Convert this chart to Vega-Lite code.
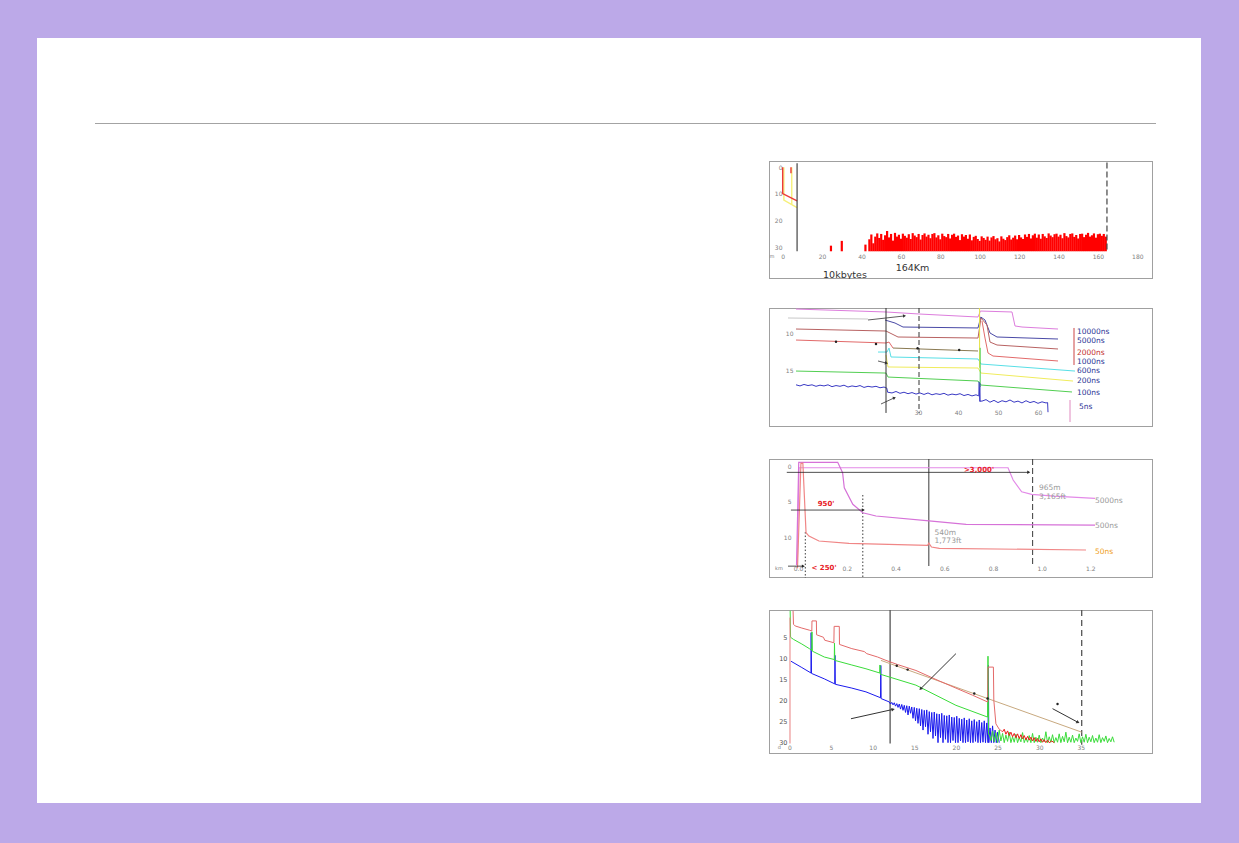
{
  "$schema": "https://vega.github.io/schema/vega-lite/v6.json",
  "background": "#bca9e8",
  "padding": {"left": 37, "top": 38, "right": 38, "bottom": 40},
  "spacing": 0,
  "resolve": {"scale": {"color": "independent", "fill": "independent", "strokeDash": "independent"}},
  "config": {
    "view": {"fill": "white", "stroke": null},
    "axis": {"domain": false, "ticks": false, "tickSize": 0, "grid": false, "labelFont": "DejaVu Sans", "labelFontSize": 6, "labelColor": "#808080", "labelFlush": false, "labelOverlap": false, "labelBound": false},
    "text": {"font": "DejaVu Sans"}
  },
  "datasets": {
    "blank": [{"y": 0}],
    "p1frame": [
      {"x": -6.95, "y": -2.36, "x0": 187.97, "y0": -2.36}, {"x": -6.95, "y": 41.9, "x0": 187.97, "y0": 41.9},
      {"x": -6.95, "y": -2.36, "x0": -6.95, "y0": 41.9}, {"x": 187.97, "y": -2.36, "x0": 187.97, "y0": 41.9}
    ],
    "p2frame": [
      {"x": -7.25, "y": 6.62, "x0": 88.75, "y0": 6.62}, {"x": -7.25, "y": 22.7, "x0": 88.75, "y0": 22.7},
      {"x": -7.25, "y": 6.62, "x0": -7.25, "y0": 22.7}, {"x": 88.75, "y": 6.62, "x0": 88.75, "y0": 22.7}
    ],
    "p3frame": [
      {"x": -0.119, "y": -0.99, "x0": 1.457, "y0": -0.99}, {"x": -0.119, "y": 15.77, "x0": 1.457, "y0": 15.77},
      {"x": -0.119, "y": -0.99, "x0": -0.119, "y0": 15.77}, {"x": 1.457, "y": -0.99, "x0": 1.457, "y0": 15.77}
    ],
    "p4frame": [
      {"x": -2.44, "y": -1.6, "x0": 43.66, "y0": -1.6}, {"x": -2.44, "y": 32.7, "x0": 43.66, "y0": 32.7},
      {"x": -2.44, "y": -1.6, "x0": -2.44, "y0": 32.7}, {"x": 43.66, "y": -1.6, "x0": 43.66, "y0": 32.7}
    ],
    "p1bars": [
      {"x": 24.5, "y": 29.4}, {"x": 30, "y": 27.6}, {"x": 42, "y": 29.0},
      {"x": 44, "y": 27.0}, {"x": 45, "y": 25.2}, {"x": 46, "y": 28.5}, {"x": 47, "y": 26.0}, {"x": 48, "y": 24.8}, {"x": 49, "y": 26.5}, {"x": 50, "y": 25.0}, {"x": 51, "y": 27.2}, {"x": 52, "y": 25.5}, {"x": 53, "y": 23.9},
      {"x": 54, "y": 26.3}, {"x": 55, "y": 25.0}, {"x": 56, "y": 27.5}, {"x": 57, "y": 24.6}, {"x": 58, "y": 26.0}, {"x": 59, "y": 25.3}, {"x": 60, "y": 26.8}, {"x": 61, "y": 24.9}, {"x": 62, "y": 25.7}, {"x": 63, "y": 26.4},
      {"x": 64, "y": 25.1}, {"x": 65, "y": 26.9}, {"x": 66, "y": 24.7}, {"x": 67, "y": 25.6}, {"x": 68, "y": 26.2}, {"x": 69, "y": 25.0}, {"x": 70, "y": 27.1}, {"x": 71, "y": 25.4}, {"x": 72, "y": 24.8}, {"x": 73, "y": 26.0},
      {"x": 74, "y": 25.3}, {"x": 75, "y": 26.6}, {"x": 76, "y": 25.0}, {"x": 77, "y": 24.7}, {"x": 78, "y": 26.3}, {"x": 79, "y": 25.5}, {"x": 80, "y": 27.0}, {"x": 81, "y": 24.9}, {"x": 82, "y": 25.8}, {"x": 83, "y": 26.2},
      {"x": 84, "y": 25.0}, {"x": 85, "y": 26.7}, {"x": 86, "y": 25.3}, {"x": 87, "y": 24.9}, {"x": 88, "y": 26.1}, {"x": 89, "y": 25.6}, {"x": 90, "y": 27.3}, {"x": 91, "y": 25.1}, {"x": 92, "y": 26.0}, {"x": 93, "y": 25.4},
      {"x": 94, "y": 26.8}, {"x": 95, "y": 25.2}, {"x": 96, "y": 27.4}, {"x": 97, "y": 26.1}, {"x": 98, "y": 25.7}, {"x": 99, "y": 26.9}, {"x": 100, "y": 27.6}, {"x": 101, "y": 25.9}, {"x": 102, "y": 26.5}, {"x": 103, "y": 27.2},
      {"x": 104, "y": 26.0}, {"x": 105, "y": 27.5}, {"x": 106, "y": 26.3}, {"x": 107, "y": 25.8}, {"x": 108, "y": 27.0}, {"x": 109, "y": 26.6}, {"x": 110, "y": 27.8}, {"x": 111, "y": 25.9}, {"x": 112, "y": 26.8}, {"x": 113, "y": 27.3},
      {"x": 114, "y": 26.2}, {"x": 115, "y": 25.5}, {"x": 116, "y": 27.1}, {"x": 117, "y": 26.4}, {"x": 118, "y": 25.6}, {"x": 119, "y": 27.0}, {"x": 120, "y": 25.4}, {"x": 121, "y": 26.3}, {"x": 122, "y": 26.9}, {"x": 123, "y": 25.2},
      {"x": 124, "y": 26.1}, {"x": 125, "y": 25.0}, {"x": 126, "y": 26.7}, {"x": 127, "y": 25.5}, {"x": 128, "y": 24.9}, {"x": 129, "y": 26.4}, {"x": 130, "y": 25.2}, {"x": 131, "y": 26.8}, {"x": 132, "y": 25.0}, {"x": 133, "y": 25.9},
      {"x": 134, "y": 26.5}, {"x": 135, "y": 24.8}, {"x": 136, "y": 25.6}, {"x": 137, "y": 26.2}, {"x": 138, "y": 25.1}, {"x": 139, "y": 24.9}, {"x": 140, "y": 26.0}, {"x": 141, "y": 25.3}, {"x": 142, "y": 26.6}, {"x": 143, "y": 24.7},
      {"x": 144, "y": 25.8}, {"x": 145, "y": 26.3}, {"x": 146, "y": 25.0}, {"x": 147, "y": 24.8}, {"x": 148, "y": 26.1}, {"x": 149, "y": 25.4}, {"x": 150, "y": 26.7}, {"x": 151, "y": 25.0}, {"x": 152, "y": 24.9}, {"x": 153, "y": 26.2},
      {"x": 154, "y": 25.3}, {"x": 155, "y": 24.6}, {"x": 156, "y": 26.0}, {"x": 157, "y": 25.5}, {"x": 158, "y": 24.8}, {"x": 159, "y": 26.4}, {"x": 160, "y": 25.1}, {"x": 161, "y": 24.9}, {"x": 162, "y": 25.7}, {"x": 163, "y": 25.0},
      {"x": 164, "y": 26.0}
    ],
    "p1lines": [
      {"s": "ya", "x": 0.6, "y": 0}, {"s": "ya", "x": 0.6, "y": 12.3}, {"s": "ya", "x": 7.3, "y": 15.1},
      {"s": "yb", "x": 4.6, "y": 0}, {"s": "yb", "x": 4.6, "y": 13.8},
      {"s": "ra", "x": 0, "y": 0}, {"s": "ra", "x": 0, "y": 9.9}, {"s": "ra", "x": 7.3, "y": 12.6},
      {"s": "rb", "x": 4.2, "y": 0}, {"s": "rb", "x": 4.2, "y": 2.2}
    ],
    "p1rules": [
      {"x": 7.3, "y": -1.5, "y2": 31.5, "k": "solid"},
      {"x": 164.6, "y": -1.8, "y2": 31.8, "k": "dash"}
    ],
    "p1text": [
      {"x": 65.9, "y": 37.6, "t": "164Km"},
      {"x": 31.6, "y": 40.4, "t": "10kbytes"}
    ],
    "p1unit": [{"x": -5.4, "y": 33.4, "t": "m"}],
    "p2lines": [
      {"s": "pre", "x": -2.5, "y": 7.97}, {"s": "pre", "x": 17.5, "y": 8.11},
      {"s": "s10000", "x": -0.5, "y": 6.76}, {"s": "s10000", "x": 22, "y": 7.16}, {"s": "s10000", "x": 30.25, "y": 7.43}, {"s": "s10000", "x": 45, "y": 7.84}, {"s": "s10000", "x": 45.6, "y": 7.03}, {"s": "s10000", "x": 53.5, "y": 7.16}, {"s": "s10000", "x": 54.25, "y": 9.05}, {"s": "s10000", "x": 56, "y": 9.19}, {"s": "s10000", "x": 65, "y": 9.46},
      {"s": "s5000", "x": 21.75, "y": 8.24}, {"s": "s5000", "x": 24.25, "y": 8.65}, {"s": "s5000", "x": 26.25, "y": 9.19}, {"s": "s5000", "x": 45, "y": 9.32}, {"s": "s5000", "x": 45.7, "y": 7.84}, {"s": "s5000", "x": 46.75, "y": 8.24}, {"s": "s5000", "x": 48, "y": 10.0}, {"s": "s5000", "x": 49.75, "y": 10.54}, {"s": "s5000", "x": 65, "y": 10.81},
      {"s": "s2000", "x": -0.5, "y": 9.46}, {"s": "s2000", "x": 22, "y": 9.73}, {"s": "s2000", "x": 25, "y": 10.54}, {"s": "s2000", "x": 45, "y": 10.68}, {"s": "s2000", "x": 45.75, "y": 7.97}, {"s": "s2000", "x": 47.25, "y": 8.92}, {"s": "s2000", "x": 48, "y": 11.22}, {"s": "s2000", "x": 49.75, "y": 11.62}, {"s": "s2000", "x": 65, "y": 12.16},
      {"s": "s1000", "x": -0.5, "y": 10.95}, {"s": "s1000", "x": 22, "y": 11.35}, {"s": "s1000", "x": 22.75, "y": 11.22}, {"s": "s1000", "x": 23.75, "y": 12.03},
      {"s": "olive", "x": 23.75, "y": 12.03}, {"s": "olive", "x": 45, "y": 12.43},
      {"s": "s1000b", "x": 46, "y": 8.38}, {"s": "s1000b", "x": 46.75, "y": 10.68}, {"s": "s1000b", "x": 47.5, "y": 12.7}, {"s": "s1000b", "x": 48.75, "y": 13.11}, {"s": "s1000b", "x": 65, "y": 13.78},
      {"s": "s600", "x": 20, "y": 12.57}, {"s": "s600", "x": 22.25, "y": 12.57}, {"s": "s600", "x": 22.75, "y": 12.03}, {"s": "s600", "x": 23.25, "y": 13.24}, {"s": "s600", "x": 45, "y": 13.51}, {"s": "s600", "x": 45.75, "y": 14.19}, {"s": "s600", "x": 69.25, "y": 15.14},
      {"s": "s200", "x": 22, "y": 12.97}, {"s": "s200", "x": 22.5, "y": 14.59}, {"s": "s200", "x": 45, "y": 14.73}, {"s": "s200", "x": 45.75, "y": 15.41}, {"s": "s200", "x": 68.75, "y": 16.49},
      {"s": "s100", "x": -0.5, "y": 15.14}, {"s": "s100", "x": 22, "y": 15.41}, {"s": "s100", "x": 22.5, "y": 15.95}, {"s": "s100", "x": 45, "y": 16.49}, {"s": "s100", "x": 45.75, "y": 17.03}, {"s": "s100", "x": 68.5, "y": 17.97},
      {"s": "s5", "x": -0.5, "y": 17.0}, {"s": "s5", "x": 0.5, "y": 17.15}, {"s": "s5", "x": 1.5, "y": 16.95}, {"s": "s5", "x": 2.5, "y": 17.1}, {"s": "s5", "x": 3.5, "y": 17.0}, {"s": "s5", "x": 4.5, "y": 17.2}, {"s": "s5", "x": 5.5, "y": 17.05}, {"s": "s5", "x": 6.5, "y": 17.15}, {"s": "s5", "x": 7.5, "y": 17.0}, {"s": "s5", "x": 8.5, "y": 17.25}, {"s": "s5", "x": 9.5, "y": 17.1}, {"s": "s5", "x": 10.5, "y": 17.2}, {"s": "s5", "x": 11.5, "y": 17.05}, {"s": "s5", "x": 12.5, "y": 17.3}, {"s": "s5", "x": 13.5, "y": 17.15}, {"s": "s5", "x": 14.5, "y": 17.25}, {"s": "s5", "x": 15.5, "y": 17.1}, {"s": "s5", "x": 16.5, "y": 17.35}, {"s": "s5", "x": 17.5, "y": 17.2}, {"s": "s5", "x": 18.5, "y": 17.3}, {"s": "s5", "x": 19.5, "y": 17.2}, {"s": "s5", "x": 20.5, "y": 17.4}, {"s": "s5", "x": 21.5, "y": 17.3}, {"s": "s5", "x": 22.2, "y": 17.45}, {"s": "s5", "x": 22.4, "y": 18.0},
      {"s": "s5", "x": 23.5, "y": 18.1}, {"s": "s5", "x": 24.5, "y": 17.9}, {"s": "s5", "x": 25.5, "y": 18.15}, {"s": "s5", "x": 26.5, "y": 18.0}, {"s": "s5", "x": 27.5, "y": 18.2}, {"s": "s5", "x": 28.5, "y": 18.05}, {"s": "s5", "x": 29.5, "y": 18.25}, {"s": "s5", "x": 30.5, "y": 18.1}, {"s": "s5", "x": 31.5, "y": 18.3}, {"s": "s5", "x": 32.5, "y": 18.1}, {"s": "s5", "x": 33.5, "y": 18.35}, {"s": "s5", "x": 34.5, "y": 18.2}, {"s": "s5", "x": 35.5, "y": 18.3}, {"s": "s5", "x": 36.5, "y": 18.15}, {"s": "s5", "x": 37.5, "y": 18.4}, {"s": "s5", "x": 38.5, "y": 18.25}, {"s": "s5", "x": 39.5, "y": 18.35}, {"s": "s5", "x": 40.5, "y": 18.2}, {"s": "s5", "x": 41.5, "y": 18.45}, {"s": "s5", "x": 42.5, "y": 18.3}, {"s": "s5", "x": 43.5, "y": 18.5}, {"s": "s5", "x": 44.5, "y": 18.35}, {"s": "s5", "x": 45.2, "y": 18.5}, {"s": "s5", "x": 45.3, "y": 16.6}, {"s": "s5", "x": 45.45, "y": 19.2},
      {"s": "s5", "x": 46, "y": 19.2}, {"s": "s5", "x": 47, "y": 19.0}, {"s": "s5", "x": 48, "y": 19.35}, {"s": "s5", "x": 49, "y": 19.1}, {"s": "s5", "x": 50, "y": 19.4}, {"s": "s5", "x": 51, "y": 19.15}, {"s": "s5", "x": 52, "y": 19.3}, {"s": "s5", "x": 53, "y": 19.05}, {"s": "s5", "x": 54, "y": 19.35}, {"s": "s5", "x": 55, "y": 19.2}, {"s": "s5", "x": 56, "y": 19.45}, {"s": "s5", "x": 57, "y": 19.15}, {"s": "s5", "x": 58, "y": 19.4}, {"s": "s5", "x": 59, "y": 19.25}, {"s": "s5", "x": 60, "y": 19.5}, {"s": "s5", "x": 61, "y": 19.3}, {"s": "s5", "x": 62, "y": 19.45}, {"s": "s5", "x": 62.4, "y": 19.4}, {"s": "s5", "x": 62.5, "y": 20.7},
      {"s": "evy", "x": 45.4, "y": 6.6}, {"s": "evy", "x": 45.4, "y": 14.7},
      {"s": "evg", "x": 45.55, "y": 12.0}, {"s": "evg", "x": 45.55, "y": 17.3},
      {"s": "evb", "x": 45.5, "y": 16.8}, {"s": "evb", "x": 45.5, "y": 19.3},
      {"s": "brR", "x": 69, "y": 9.32}, {"s": "brR", "x": 69, "y": 14.32},
      {"s": "brP", "x": 68, "y": 19.05}, {"s": "brP", "x": 68, "y": 22.03}
    ],
    "p2rules": [
      {"x": 22, "y": 6.62, "y2": 20.8, "k": "solid"},
      {"x": 30.25, "y": 6.62, "y2": 20.8, "k": "dash"}
    ],
    "p2dots": [
      {"x": 9.5, "y": 11.17}, {"x": 19.5, "y": 11.49}, {"x": 29.9, "y": 12.07}, {"x": 40.3, "y": 12.3}
    ],
    "p2arrows": [
      {"x": 26.5, "y": 7.7, "x0": 17.5, "y0": 8.24, "a": 84},
      {"x": 22, "y": 14.05, "x0": 20, "y0": 13.78, "a": 104},
      {"x": 24, "y": 18.78, "x0": 20.75, "y0": 19.59, "a": 65}
    ],
    "p2text": [
      {"x": 69.75, "y": 9.86, "t": "10000ns", "s": "s10000"},
      {"x": 69.75, "y": 11.08, "t": "5000ns", "s": "s5000"},
      {"x": 69.75, "y": 12.7, "t": "2000ns", "s": "s2000"},
      {"x": 69.75, "y": 13.92, "t": "1000ns", "s": "s1000"},
      {"x": 69.75, "y": 15.14, "t": "600ns", "s": "s600"},
      {"x": 69.75, "y": 16.49, "t": "200ns", "s": "s200"},
      {"x": 69.75, "y": 18.11, "t": "100ns", "s": "s100"},
      {"x": 70.25, "y": 20.0, "t": "5ns", "s": "s5"}
    ],
    "p3lines": [
      {"s": "s5000", "x": -0.003, "y": 14.0}, {"s": "s5000", "x": 0.004, "y": 0.24}, {"s": "s5000", "x": 0.862, "y": 0.24}, {"s": "s5000", "x": 0.883, "y": 1.97}, {"s": "s5000", "x": 0.918, "y": 3.62}, {"s": "s5000", "x": 0.959, "y": 3.99}, {"s": "s5000", "x": 1.05, "y": 4.25}, {"s": "s5000", "x": 1.219, "y": 4.55},
      {"s": "s500", "x": -0.006, "y": 13.94}, {"s": "s500", "x": 0.003, "y": -0.52}, {"s": "s500", "x": 0.163, "y": -0.52}, {"s": "s500", "x": 0.183, "y": 0.94}, {"s": "s500", "x": 0.19, "y": 3.06}, {"s": "s500", "x": 0.225, "y": 5.39}, {"s": "s500", "x": 0.266, "y": 6.58}, {"s": "s500", "x": 0.32, "y": 7.04}, {"s": "s500", "x": 0.549, "y": 7.75}, {"s": "s500", "x": 0.69, "y": 8.21}, {"s": "s500", "x": 1.219, "y": 8.31},
      {"s": "s50", "x": -0.002, "y": 14.4}, {"s": "s50", "x": 0.012, "y": -0.38}, {"s": "s50", "x": 0.02, "y": -0.4}, {"s": "s50", "x": 0.033, "y": 9.39}, {"s": "s50", "x": 0.045, "y": 9.86}, {"s": "s50", "x": 0.086, "y": 10.56}, {"s": "s50", "x": 0.209, "y": 10.89}, {"s": "s50", "x": 0.532, "y": 11.17}, {"s": "s50", "x": 0.537, "y": 10.85}, {"s": "s50", "x": 0.548, "y": 11.4}, {"s": "s50", "x": 0.58, "y": 11.59}, {"s": "s50", "x": 1.182, "y": 11.83}
    ],
    "p3rules": [
      {"x": 0.03, "y": 9.3, "y2": 15.77, "k": "dot"},
      {"x": 0.266, "y": 4.08, "y2": 15.77, "k": "dot"},
      {"x": 0.537, "y": -0.99, "y2": 14.08, "k": "solid"},
      {"x": 0.963, "y": -0.99, "y2": 13.94, "k": "dash"}
    ],
    "p3arrows": [
      {"x": 0.945, "y": 0.89, "x0": -0.046, "y0": 0.89, "a": 90},
      {"x": 0.266, "y": 6.2, "x0": -0.029, "y0": 6.2, "a": 90},
      {"x": 0.02, "y": 14.1, "x0": -0.041, "y0": 14.1, "a": 90}
    ],
    "p3ann": [
      {"x": 0.743, "y": 0.56, "t": ">3,000'"},
      {"x": 0.115, "y": 5.39, "t": "950'"},
      {"x": 0.107, "y": 14.32, "t": "< 250'"}
    ],
    "p3text": [
      {"x": 0.989, "y": 3.14, "t": "965m", "s": "event"},
      {"x": 0.989, "y": 4.41, "t": "3,165ft", "s": "event"},
      {"x": 0.56, "y": 9.48, "t": "540m", "s": "event"},
      {"x": 0.56, "y": 10.56, "t": "1,773ft", "s": "event"},
      {"x": 1.219, "y": 4.89, "t": "5000ns", "s": "s5000"},
      {"x": 1.219, "y": 8.45, "t": "500ns", "s": "s500"},
      {"x": 1.219, "y": 12.07, "t": "50ns", "s": "s50"}
    ],
    "p3unit": [{"x": -0.078, "y": 14.37, "t": "km"}],
    "p4lines": [
      {"s": "tan", "x": 11.0, "y": 10.4}, {"s": "tan", "x": 35.1, "y": 27.5},
      {"s": "blue", "x": 0.2, "y": 10.6}, {"s": "blue", "x": 1.5, "y": 12.1}, {"s": "blue", "x": 2.6, "y": 13.4}, {"s": "blue", "x": 2.62, "y": 3.8}, {"s": "blue", "x": 2.66, "y": 13.5}, {"s": "blue", "x": 4.2, "y": 14.8}, {"s": "blue", "x": 5.45, "y": 16.0}, {"s": "blue", "x": 5.48, "y": 9.2}, {"s": "blue", "x": 5.52, "y": 16.1}, {"s": "blue", "x": 7.5, "y": 17.0}, {"s": "blue", "x": 9.2, "y": 17.9}, {"s": "blue", "x": 10.95, "y": 19.3}, {"s": "blue", "x": 10.98, "y": 11.6}, {"s": "blue", "x": 11.02, "y": 19.5}, {"s": "blue", "x": 12.0, "y": 20.3},
      {"s": "blue", "x": 12.15, "y": 20.8}, {"s": "blue", "x": 12.3, "y": 20.4}, {"s": "blue", "x": 12.45, "y": 21.0}, {"s": "blue", "x": 12.6, "y": 20.5}, {"s": "blue", "x": 12.75, "y": 21.3}, {"s": "blue", "x": 12.9, "y": 20.7}, {"s": "blue", "x": 13.05, "y": 21.6}, {"s": "blue", "x": 13.2, "y": 20.8}, {"s": "blue", "x": 13.35, "y": 22.0}, {"s": "blue", "x": 13.5, "y": 20.9}, {"s": "blue", "x": 13.65, "y": 22.3}, {"s": "blue", "x": 13.8, "y": 21.1}, {"s": "blue", "x": 13.95, "y": 22.8}, {"s": "blue", "x": 14.1, "y": 21.2}, {"s": "blue", "x": 14.25, "y": 23.4}, {"s": "blue", "x": 14.4, "y": 21.3}, {"s": "blue", "x": 14.55, "y": 23.0}, {"s": "blue", "x": 14.7, "y": 21.5}, {"s": "blue", "x": 14.85, "y": 24.2}, {"s": "blue", "x": 15.0, "y": 21.6}, {"s": "blue", "x": 15.15, "y": 24.8}, {"s": "blue", "x": 15.3, "y": 21.8}, {"s": "blue", "x": 15.45, "y": 25.4}, {"s": "blue", "x": 15.6, "y": 21.9}, {"s": "blue", "x": 15.75, "y": 26.0}, {"s": "blue", "x": 15.9, "y": 22.1}, {"s": "blue", "x": 16.05, "y": 27.0}, {"s": "blue", "x": 16.2, "y": 22.3}, {"s": "blue", "x": 16.35, "y": 26.2}, {"s": "blue", "x": 16.5, "y": 22.2}, {"s": "blue", "x": 16.65, "y": 28.0}, {"s": "blue", "x": 16.8, "y": 22.6}, {"s": "blue", "x": 16.95, "y": 27.4}, {"s": "blue", "x": 17.1, "y": 22.8}, {"s": "blue", "x": 17.25, "y": 29.0}, {"s": "blue", "x": 17.4, "y": 22.7}, {"s": "blue", "x": 17.55, "y": 28.4}, {"s": "blue", "x": 17.7, "y": 23.1}, {"s": "blue", "x": 17.85, "y": 30.0}, {"s": "blue", "x": 18.0, "y": 23.2}, {"s": "blue", "x": 18.15, "y": 28.8}, {"s": "blue", "x": 18.3, "y": 23.0}, {"s": "blue", "x": 18.45, "y": 30.0}, {"s": "blue", "x": 18.6, "y": 23.5}, {"s": "blue", "x": 18.75, "y": 29.2}, {"s": "blue", "x": 18.9, "y": 23.6}, {"s": "blue", "x": 19.05, "y": 30.0}, {"s": "blue", "x": 19.2, "y": 23.4}, {"s": "blue", "x": 19.35, "y": 30.0}, {"s": "blue", "x": 19.5, "y": 23.9}, {"s": "blue", "x": 19.65, "y": 29.5}, {"s": "blue", "x": 19.8, "y": 24.0}, {"s": "blue", "x": 19.95, "y": 30.0}, {"s": "blue", "x": 20.1, "y": 23.7}, {"s": "blue", "x": 20.25, "y": 30.0}, {"s": "blue", "x": 20.4, "y": 24.2}, {"s": "blue", "x": 20.55, "y": 29.6}, {"s": "blue", "x": 20.7, "y": 24.4}, {"s": "blue", "x": 20.85, "y": 30.0}, {"s": "blue", "x": 21.0, "y": 24.1}, {"s": "blue", "x": 21.15, "y": 30.0}, {"s": "blue", "x": 21.3, "y": 24.6}, {"s": "blue", "x": 21.45, "y": 29.8}, {"s": "blue", "x": 21.6, "y": 24.3}, {"s": "blue", "x": 21.75, "y": 30.0}, {"s": "blue", "x": 21.9, "y": 24.8}, {"s": "blue", "x": 22.05, "y": 30.0}, {"s": "blue", "x": 22.2, "y": 24.5}, {"s": "blue", "x": 22.35, "y": 29.7}, {"s": "blue", "x": 22.5, "y": 25.0}, {"s": "blue", "x": 22.65, "y": 30.0}, {"s": "blue", "x": 22.8, "y": 24.6}, {"s": "blue", "x": 22.95, "y": 30.0}, {"s": "blue", "x": 23.1, "y": 25.2}, {"s": "blue", "x": 23.25, "y": 29.9}, {"s": "blue", "x": 23.4, "y": 24.8}, {"s": "blue", "x": 23.55, "y": 30.0}, {"s": "blue", "x": 23.7, "y": 25.3}, {"s": "blue", "x": 23.85, "y": 30.0}, {"s": "blue", "x": 23.9, "y": 11.6}, {"s": "blue", "x": 23.95, "y": 30.0}, {"s": "blue", "x": 24.1, "y": 26.5}, {"s": "blue", "x": 24.25, "y": 30.0}, {"s": "blue", "x": 24.4, "y": 26.0}, {"s": "blue", "x": 24.55, "y": 30.0}, {"s": "blue", "x": 24.7, "y": 27.0}, {"s": "blue", "x": 24.85, "y": 30.0}, {"s": "blue", "x": 25.0, "y": 27.5}, {"s": "blue", "x": 25.2, "y": 30.0},
      {"s": "green", "x": 0.1, "y": -1.4}, {"s": "green", "x": 0.15, "y": 4.9}, {"s": "green", "x": 0.5, "y": 5.4}, {"s": "green", "x": 1.5, "y": 6.5}, {"s": "green", "x": 2.4, "y": 7.6}, {"s": "green", "x": 2.7, "y": 8.0}, {"s": "green", "x": 2.72, "y": 3.6}, {"s": "green", "x": 2.76, "y": 8.2}, {"s": "green", "x": 4.2, "y": 9.6}, {"s": "green", "x": 5.4, "y": 10.2}, {"s": "green", "x": 5.42, "y": 6.3}, {"s": "green", "x": 5.46, "y": 10.4}, {"s": "green", "x": 7.5, "y": 11.5}, {"s": "green", "x": 9.2, "y": 12.4}, {"s": "green", "x": 10.85, "y": 13.4}, {"s": "green", "x": 10.88, "y": 11.5}, {"s": "green", "x": 10.92, "y": 13.7}, {"s": "green", "x": 15.2, "y": 16.3}, {"s": "green", "x": 20.0, "y": 21.1}, {"s": "green", "x": 23.8, "y": 23.9}, {"s": "green", "x": 23.85, "y": 9.4}, {"s": "green", "x": 23.92, "y": 28.0},
      {"s": "green", "x": 24.0, "y": 28.0}, {"s": "green", "x": 24.2, "y": 29.5}, {"s": "green", "x": 24.4, "y": 27.2}, {"s": "green", "x": 24.6, "y": 29.8}, {"s": "green", "x": 24.8, "y": 27.6}, {"s": "green", "x": 25.0, "y": 30.0}, {"s": "green", "x": 25.2, "y": 27.0}, {"s": "green", "x": 25.4, "y": 29.6}, {"s": "green", "x": 25.6, "y": 27.8}, {"s": "green", "x": 25.8, "y": 30.0}, {"s": "green", "x": 26.0, "y": 28.2}, {"s": "green", "x": 26.2, "y": 29.7}, {"s": "green", "x": 26.4, "y": 27.5}, {"s": "green", "x": 26.6, "y": 30.0}, {"s": "green", "x": 26.8, "y": 28.6}, {"s": "green", "x": 27.0, "y": 29.9}, {"s": "green", "x": 27.2, "y": 28.0}, {"s": "green", "x": 27.4, "y": 30.0}, {"s": "green", "x": 27.6, "y": 28.8}, {"s": "green", "x": 27.8, "y": 29.8}, {"s": "green", "x": 28.0, "y": 27.6}, {"s": "green", "x": 28.2, "y": 30.0}, {"s": "green", "x": 28.4, "y": 28.9}, {"s": "green", "x": 28.6, "y": 29.9}, {"s": "green", "x": 28.8, "y": 28.3}, {"s": "green", "x": 29.0, "y": 30.0}, {"s": "green", "x": 29.2, "y": 27.8}, {"s": "green", "x": 29.4, "y": 30.0}, {"s": "green", "x": 29.6, "y": 28.7}, {"s": "green", "x": 29.8, "y": 29.9}, {"s": "green", "x": 30.0, "y": 28.2}, {"s": "green", "x": 30.2, "y": 30.0}, {"s": "green", "x": 30.4, "y": 28.9}, {"s": "green", "x": 30.6, "y": 29.8}, {"s": "green", "x": 30.8, "y": 27.4}, {"s": "green", "x": 31.0, "y": 30.0}, {"s": "green", "x": 31.2, "y": 28.6}, {"s": "green", "x": 31.4, "y": 29.9}, {"s": "green", "x": 31.6, "y": 28.1}, {"s": "green", "x": 31.8, "y": 30.0}, {"s": "green", "x": 32.0, "y": 28.8}, {"s": "green", "x": 32.2, "y": 29.9}, {"s": "green", "x": 32.4, "y": 27.9}, {"s": "green", "x": 32.6, "y": 30.0}, {"s": "green", "x": 32.8, "y": 28.5}, {"s": "green", "x": 33.0, "y": 29.8}, {"s": "green", "x": 33.2, "y": 27.5}, {"s": "green", "x": 33.4, "y": 30.0}, {"s": "green", "x": 33.6, "y": 28.7}, {"s": "green", "x": 33.8, "y": 29.9}, {"s": "green", "x": 34.0, "y": 28.2}, {"s": "green", "x": 34.2, "y": 30.0}, {"s": "green", "x": 34.4, "y": 28.9}, {"s": "green", "x": 34.6, "y": 29.7}, {"s": "green", "x": 34.8, "y": 27.9}, {"s": "green", "x": 35.0, "y": 30.0}, {"s": "green", "x": 35.2, "y": 28.6}, {"s": "green", "x": 35.4, "y": 29.9}, {"s": "green", "x": 35.6, "y": 28.0}, {"s": "green", "x": 35.8, "y": 30.0}, {"s": "green", "x": 36.0, "y": 28.7}, {"s": "green", "x": 36.2, "y": 29.8}, {"s": "green", "x": 36.4, "y": 28.3}, {"s": "green", "x": 36.6, "y": 30.0}, {"s": "green", "x": 36.8, "y": 28.9}, {"s": "green", "x": 37.0, "y": 29.9}, {"s": "green", "x": 37.2, "y": 28.1}, {"s": "green", "x": 37.4, "y": 30.0}, {"s": "green", "x": 37.6, "y": 28.8}, {"s": "green", "x": 37.8, "y": 29.7}, {"s": "green", "x": 38.0, "y": 28.4}, {"s": "green", "x": 38.2, "y": 30.0}, {"s": "green", "x": 38.4, "y": 29.0}, {"s": "green", "x": 38.6, "y": 29.8}, {"s": "green", "x": 38.8, "y": 28.6}, {"s": "green", "x": 39.0, "y": 29.9},
      {"s": "red", "x": 0.45, "y": -1.4}, {"s": "red", "x": 0.5, "y": 1.8}, {"s": "red", "x": 0.7, "y": 2.2}, {"s": "red", "x": 1.5, "y": 2.7}, {"s": "red", "x": 2.4, "y": 3.2}, {"s": "red", "x": 2.7, "y": 3.4}, {"s": "red", "x": 2.72, "y": 1.0}, {"s": "red", "x": 3.25, "y": 1.0}, {"s": "red", "x": 3.27, "y": 4.3}, {"s": "red", "x": 4.1, "y": 4.9}, {"s": "red", "x": 4.25, "y": 5.6}, {"s": "red", "x": 5.35, "y": 6.2}, {"s": "red", "x": 5.38, "y": 2.3}, {"s": "red", "x": 6.0, "y": 2.3}, {"s": "red", "x": 6.02, "y": 6.6}, {"s": "red", "x": 7.5, "y": 7.6}, {"s": "red", "x": 9.0, "y": 8.3}, {"s": "red", "x": 9.3, "y": 8.8}, {"s": "red", "x": 10.6, "y": 9.6}, {"s": "red", "x": 11.6, "y": 10.4}, {"s": "red", "x": 13.0, "y": 11.4}, {"s": "red", "x": 15.2, "y": 12.8}, {"s": "red", "x": 18.0, "y": 15.3}, {"s": "red", "x": 20.0, "y": 17.0}, {"s": "red", "x": 22.0, "y": 18.7}, {"s": "red", "x": 23.8, "y": 20.3}, {"s": "red", "x": 23.85, "y": 12.0}, {"s": "red", "x": 24.5, "y": 12.0}, {"s": "red", "x": 24.55, "y": 19.9}, {"s": "red", "x": 24.8, "y": 25.5}, {"s": "red", "x": 25.2, "y": 26.8}, {"s": "red", "x": 25.6, "y": 27.4},
      {"s": "redtail", "x": 25.6, "y": 27.4}, {"s": "redtail", "x": 25.8, "y": 26.8}, {"s": "redtail", "x": 26.0, "y": 28.0}, {"s": "redtail", "x": 26.2, "y": 27.2}, {"s": "redtail", "x": 26.4, "y": 28.3}, {"s": "redtail", "x": 26.6, "y": 27.5}, {"s": "redtail", "x": 26.8, "y": 28.6}, {"s": "redtail", "x": 27.0, "y": 27.8}, {"s": "redtail", "x": 27.2, "y": 28.8}, {"s": "redtail", "x": 27.4, "y": 27.9}, {"s": "redtail", "x": 27.6, "y": 29.0}, {"s": "redtail", "x": 27.8, "y": 28.1}, {"s": "redtail", "x": 28.0, "y": 29.1}, {"s": "redtail", "x": 28.2, "y": 28.3}, {"s": "redtail", "x": 28.4, "y": 29.3}, {"s": "redtail", "x": 28.6, "y": 28.5}, {"s": "redtail", "x": 28.8, "y": 29.4}, {"s": "redtail", "x": 29.0, "y": 28.7}, {"s": "redtail", "x": 29.2, "y": 29.6}, {"s": "redtail", "x": 29.4, "y": 28.8}, {"s": "redtail", "x": 29.6, "y": 29.7}, {"s": "redtail", "x": 29.8, "y": 29.0}, {"s": "redtail", "x": 30.0, "y": 29.8}, {"s": "redtail", "x": 30.2, "y": 29.1}, {"s": "redtail", "x": 30.4, "y": 29.9}, {"s": "redtail", "x": 30.6, "y": 29.3}, {"s": "redtail", "x": 30.8, "y": 30.0}, {"s": "redtail", "x": 31.0, "y": 29.4}, {"s": "redtail", "x": 31.2, "y": 30.0}, {"s": "redtail", "x": 31.5, "y": 29.6}, {"s": "redtail", "x": 31.8, "y": 30.0},
      {"s": "launch", "x": 0.08, "y": 0.2}, {"s": "launch", "x": 0.08, "y": 30.2}
    ],
    "p4rules": [
      {"x": 12.1, "y": -1.6, "y2": 30.2, "k": "solid"},
      {"x": 35.1, "y": -1.6, "y2": 30.5, "k": "dash"}
    ],
    "p4dots": [
      {"x": 12.9, "y": 11.7}, {"x": 14.2, "y": 12.6}, {"x": 22.2, "y": 18.3}, {"x": 23.8, "y": 19.5}, {"x": 32.2, "y": 20.8}
    ],
    "p4arrows": [
      {"x": 15.8, "y": 17.1, "x0": 20.0, "y0": 8.8, "a": 225},
      {"x": 12.4, "y": 22.1, "x0": 7.4, "y0": 24.3, "a": 78},
      {"x": 34.6, "y": 25.1, "x0": 31.6, "y0": 21.9, "a": 118}
    ],
    "p4unit": [{"x": -1.2, "y": 31.0, "t": "d"}]
  },
  "vconcat": [
    {
      "spacing": 0,
      "bounds": "flush",
      "resolve": {"scale": {"color": "independent", "fill": "independent", "strokeDash": "independent"}},
      "hconcat": [
        {"width": 58, "height": 86, "data": {"name": "blank"}, "mark": {"type": "rule", "opacity": 0, "clip": true}, "encoding": {"y": {"field": "y", "type": "quantitative", "axis": null}}},
        {
          "width": 1061,
          "height": 86,
          "data": {"name": "blank"},
          "mark": {"type": "rule", "color": "#a3a3a3", "strokeWidth": 2, "clip": true},
          "encoding": {"y": {"field": "y", "type": "quantitative", "scale": {"domain": [0, 1]}, "axis": null}}
        },
        {"width": 45, "height": 86, "data": {"name": "blank"}, "mark": {"type": "rule", "opacity": 0, "clip": true}, "encoding": {"y": {"field": "y", "type": "quantitative", "axis": null}}}
      ]
    },
    {
      "spacing": 0,
      "resolve": {"scale": {"color": "independent", "fill": "independent", "strokeDash": "independent"}},
      "hconcat": [
        {"width": 732, "height": 679, "data": {"name": "blank"}, "mark": {"type": "rule", "opacity": 0, "clip": true}, "encoding": {"y": {"field": "y", "type": "quantitative", "axis": null}}},
        {
          "spacing": 0,
          "bounds": "flush",
          "resolve": {"scale": {"color": "independent", "fill": "independent", "strokeDash": "independent"}},
          "vconcat": [
            {"width": 384, "height": 37, "data": {"name": "blank"}, "mark": {"type": "rule", "opacity": 0, "clip": true}, "encoding": {"y": {"field": "y", "type": "quantitative", "axis": null}}},
            {
              "width": 384,
              "height": 118,
              "encoding": {
                "x": {"field": "x", "type": "quantitative", "scale": {"domain": [-6.95, 187.97], "nice": false, "zero": false}, "axis": {"title": null, "values": [0, 20, 40, 60, 80, 100, 120, 140, 160, 180], "offset": -23, "labelPadding": 0, "labelBaseline": "middle"}},
                "y": {"field": "y", "type": "quantitative", "scale": {"domain": [-2.36, 41.9], "reverse": true, "nice": false, "zero": false}, "axis": {"title": null, "values": [0, 10, 20, 30], "offset": -15, "labelPadding": 2}}
              },
              "layer": [
                {"data": {"name": "p1frame"}, "mark": {"type": "rule", "color": "#a0a0a0", "strokeWidth": 2, "clip": true}, "encoding": {"x2": {"field": "x0"}, "y2": {"field": "y0"}}},
                {"data": {"name": "p1bars"}, "mark": {"type": "rule", "color": "#ff0000", "strokeWidth": 2.2, "clip": true}, "encoding": {"y2": {"datum": 31.5}}},
                {
                  "data": {"name": "p1lines"},
                  "mark": {"type": "line", "strokeWidth": 1.4, "clip": true},
                  "encoding": {
                    "color": {"field": "s", "type": "nominal", "scale": {"domain": ["ya", "yb", "ra", "rb"], "range": ["#f6f07a", "#f6f07a", "#ec3a3a", "#ec3a3a"]}, "legend": null},
                    "order": {"value": null}
                  }
                },
                {
                  "data": {"name": "p1rules"},
                  "mark": {"type": "rule", "color": "#444444", "strokeWidth": 1.2, "clip": true},
                  "encoding": {
                    "y2": {"field": "y2"},
                    "strokeDash": {"field": "k", "type": "nominal", "scale": {"domain": ["solid", "dash", "dot"], "range": [[1, 0], [6, 3], [1.5, 2]]}, "legend": null}
                  }
                },
                {"data": {"name": "p1text"}, "mark": {"type": "text", "fontSize": 9.5, "color": "#333333", "align": "center", "baseline": "middle"}, "encoding": {"text": {"field": "t"}}},
                {"data": {"name": "p1unit"}, "mark": {"type": "text", "fontSize": 5, "color": "#808080", "align": "center", "baseline": "middle"}, "encoding": {"text": {"field": "t"}}}
              ]
            },
            {"width": 384, "height": 29, "data": {"name": "blank"}, "mark": {"type": "rule", "opacity": 0, "clip": true}, "encoding": {"y": {"field": "y", "type": "quantitative", "axis": null}}},
            {
              "width": 384,
              "height": 119,
              "encoding": {
                "x": {"field": "x", "type": "quantitative", "scale": {"domain": [-7.25, 88.75], "nice": false, "zero": false}, "axis": {"title": null, "values": [30, 40, 50, 60], "offset": -15, "labelPadding": 0, "labelBaseline": "middle"}},
                "y": {"field": "y", "type": "quantitative", "scale": {"domain": [6.62, 22.7], "reverse": true, "nice": false, "zero": false}, "axis": {"title": null, "values": [10, 15], "offset": -26, "labelPadding": 2}}
              },
              "layer": [
                {"data": {"name": "p2frame"}, "mark": {"type": "rule", "color": "#a0a0a0", "strokeWidth": 2, "clip": true}, "encoding": {"x2": {"field": "x0"}, "y2": {"field": "y0"}}},
                {
                  "data": {"name": "p2lines"},
                  "mark": {"type": "line", "strokeWidth": 1, "clip": true},
                  "encoding": {
                    "color": {"field": "s", "type": "nominal", "scale": {"domain": ["pre", "s10000", "s5000", "s2000", "s1000", "olive", "s1000b", "s600", "s200", "s100", "s5", "evy", "evg", "evb", "brR", "brP"], "range": ["#c8c8c8", "#dd7ddd", "#4a4aa6", "#b86262", "#e26a6a", "#8a7a52", "#e26a6a", "#58dfe6", "#f0ec5c", "#52cf52", "#3a3ac4", "#e6e040", "#52cf52", "#3a3ac4", "#cc4444", "#e08ac0"]}, "legend": null},
                    "order": {"value": null}
                  }
                },
                {
                  "data": {"name": "p2rules"},
                  "mark": {"type": "rule", "color": "#333333", "strokeWidth": 1, "clip": true},
                  "encoding": {
                    "y2": {"field": "y2"},
                    "strokeDash": {"field": "k", "type": "nominal", "scale": {"domain": ["solid", "dash", "dot"], "range": [[1, 0], [5, 3], [1.5, 2]]}, "legend": null}
                  }
                },
                {"data": {"name": "p2dots"}, "mark": {"type": "point", "filled": true, "color": "#222222", "size": 6, "opacity": 1}},
                {"data": {"name": "p2arrows"}, "mark": {"type": "rule", "color": "#333333", "strokeWidth": 0.8}, "encoding": {"x2": {"field": "x0"}, "y2": {"field": "y0"}}},
                {"data": {"name": "p2arrows"}, "mark": {"type": "point", "shape": "triangle", "filled": true, "color": "#333333", "size": 12, "opacity": 1}, "encoding": {"angle": {"field": "a", "type": "quantitative", "scale": null}}},
                {
                  "data": {"name": "p2text"},
                  "mark": {"type": "text", "fontSize": 7.5, "align": "left", "baseline": "middle"},
                  "encoding": {
                    "text": {"field": "t"},
                    "fill": {"field": "s", "type": "nominal", "scale": {"domain": ["s10000", "s5000", "s2000", "s1000", "s600", "s200", "s100", "s5"], "range": ["#2a3596", "#2a3596", "#c43030", "#2a3596", "#2a3596", "#2a3596", "#2a3596", "#2a3596"]}, "legend": null}
                  }
                }
              ]
            },
            {"width": 384, "height": 32, "data": {"name": "blank"}, "mark": {"type": "rule", "opacity": 0, "clip": true}, "encoding": {"y": {"field": "y", "type": "quantitative", "axis": null}}},
            {
              "width": 384,
              "height": 119,
              "encoding": {
                "x": {"field": "x", "type": "quantitative", "scale": {"domain": [-0.119, 1.457], "nice": false, "zero": false}, "axis": {"title": null, "values": [0, 0.2, 0.4, 0.6, 0.8, 1.0, 1.2], "format": ".1f", "offset": -10, "labelPadding": 0, "labelBaseline": "middle"}},
                "y": {"field": "y", "type": "quantitative", "scale": {"domain": [-0.99, 15.77], "reverse": true, "nice": false, "zero": false}, "axis": {"title": null, "values": [0, 5, 10], "offset": -24, "labelPadding": 2}}
              },
              "layer": [
                {"data": {"name": "p3frame"}, "mark": {"type": "rule", "color": "#a0a0a0", "strokeWidth": 2, "clip": true}, "encoding": {"x2": {"field": "x0"}, "y2": {"field": "y0"}}},
                {
                  "data": {"name": "p3rules"},
                  "mark": {"type": "rule", "color": "#3a3a3a", "strokeWidth": 1, "clip": true},
                  "encoding": {
                    "y2": {"field": "y2"},
                    "strokeDash": {"field": "k", "type": "nominal", "scale": {"domain": ["solid", "dash", "dot"], "range": [[1, 0], [6, 3], [1.5, 2]]}, "legend": null}
                  }
                },
                {
                  "data": {"name": "p3lines"},
                  "mark": {"type": "line", "strokeWidth": 1.2, "clip": true},
                  "encoding": {
                    "color": {"field": "s", "type": "nominal", "scale": {"domain": ["s5000", "s500", "s50"], "range": ["#e38ae8", "#d672d8", "#f08686"]}, "legend": null},
                    "order": {"value": null}
                  }
                },
                {"data": {"name": "p3arrows"}, "mark": {"type": "rule", "color": "#222222", "strokeWidth": 0.8}, "encoding": {"x2": {"field": "x0"}, "y2": {"field": "y0"}}},
                {"data": {"name": "p3arrows"}, "mark": {"type": "point", "shape": "triangle", "filled": true, "color": "#222222", "size": 12, "opacity": 1}, "encoding": {"angle": {"field": "a", "type": "quantitative", "scale": null}}},
                {"data": {"name": "p3ann"}, "mark": {"type": "text", "fontSize": 7, "fontWeight": "bold", "color": "#e82028", "align": "center", "baseline": "middle"}, "encoding": {"text": {"field": "t"}}},
                {
                  "data": {"name": "p3text"},
                  "mark": {"type": "text", "fontSize": 7.5, "align": "left", "baseline": "middle"},
                  "encoding": {
                    "text": {"field": "t"},
                    "fill": {"field": "s", "type": "nominal", "scale": {"domain": ["event", "s5000", "s500", "s50"], "range": ["#9a9a9a", "#9a9a9a", "#9a9a9a", "#f0a020"]}, "legend": null}
                  }
                },
                {"data": {"name": "p3unit"}, "mark": {"type": "text", "fontSize": 5, "color": "#808080", "align": "center", "baseline": "middle"}, "encoding": {"text": {"field": "t"}}}
              ]
            },
            {"width": 384, "height": 32, "data": {"name": "blank"}, "mark": {"type": "rule", "opacity": 0, "clip": true}, "encoding": {"y": {"field": "y", "type": "quantitative", "axis": null}}},
            {
              "width": 384,
              "height": 144,
              "encoding": {
                "x": {"field": "x", "type": "quantitative", "scale": {"domain": [-2.44, 43.66], "nice": false, "zero": false}, "axis": {"title": null, "values": [0, 5, 10, 15, 20, 25, 30, 35], "offset": -7, "labelPadding": 0, "labelBaseline": "middle"}},
                "y": {"field": "y", "type": "quantitative", "scale": {"domain": [-1.6, 32.7], "reverse": true, "nice": false, "zero": false}, "axis": {"title": null, "values": [5, 10, 15, 20, 25, 30], "offset": -20, "labelPadding": 2, "labelFontSize": 6.5, "labelColor": "#555555"}}
              },
              "layer": [
                {"data": {"name": "p4frame"}, "mark": {"type": "rule", "color": "#a0a0a0", "strokeWidth": 2, "clip": true}, "encoding": {"x2": {"field": "x0"}, "y2": {"field": "y0"}}},
                {
                  "data": {"name": "p4rules"},
                  "mark": {"type": "rule", "color": "#555555", "strokeWidth": 1.3, "clip": true},
                  "encoding": {
                    "y2": {"field": "y2"},
                    "strokeDash": {"field": "k", "type": "nominal", "scale": {"domain": ["solid", "dash", "dot"], "range": [[1, 0], [6, 4], [1.5, 2]]}, "legend": null}
                  }
                },
                {
                  "data": {"name": "p4lines"},
                  "mark": {"type": "line", "strokeWidth": 1, "clip": true},
                  "encoding": {
                    "color": {"field": "s", "type": "nominal", "scale": {"domain": ["tan", "blue", "green", "red", "redtail", "launch"], "range": ["#c8a97f", "#1a1aee", "#3adc3a", "#e46a6a", "#ee1a1a", "#e88080"]}, "legend": null},
                    "order": {"value": null}
                  }
                },
                {"data": {"name": "p4dots"}, "mark": {"type": "point", "filled": true, "color": "#222222", "size": 6, "opacity": 1}},
                {"data": {"name": "p4arrows"}, "mark": {"type": "rule", "color": "#333333", "strokeWidth": 1}, "encoding": {"x2": {"field": "x0"}, "y2": {"field": "y0"}}},
                {"data": {"name": "p4arrows"}, "mark": {"type": "point", "shape": "triangle", "filled": true, "color": "#333333", "size": 14, "opacity": 1}, "encoding": {"angle": {"field": "a", "type": "quantitative", "scale": null}}},
                {"data": {"name": "p4unit"}, "mark": {"type": "text", "fontSize": 5, "color": "#808080", "align": "center", "baseline": "middle"}, "encoding": {"text": {"field": "t"}}}
              ]
            },
            {"width": 384, "height": 49, "data": {"name": "blank"}, "mark": {"type": "rule", "opacity": 0, "clip": true}, "encoding": {"y": {"field": "y", "type": "quantitative", "axis": null}}}
          ]
        },
        {"width": 48, "height": 679, "data": {"name": "blank"}, "mark": {"type": "rule", "opacity": 0, "clip": true}, "encoding": {"y": {"field": "y", "type": "quantitative", "axis": null}}}
      ]
    }
  ]
}
